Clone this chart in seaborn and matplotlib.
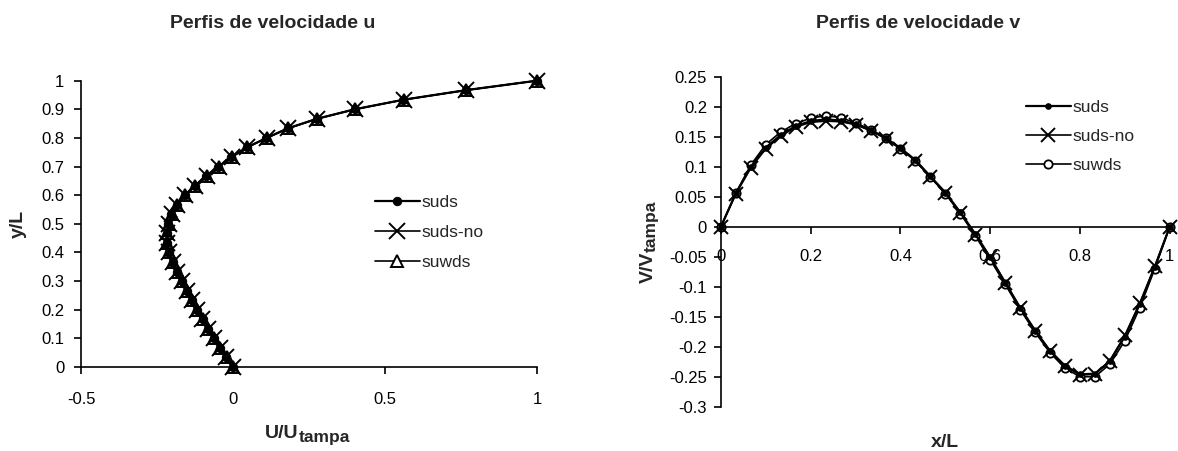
import numpy as np
import pandas as pd
import matplotlib
matplotlib.use("Agg")
import matplotlib.pyplot as plt
import seaborn as sns

# perfil u ao longo da linha vertical (y/L)
y_pos = [k / 30 for k in range(31)]
u_suds = [0.0, -0.022, -0.043, -0.063, -0.082, -0.100, -0.118, -0.135, -0.152, -0.168,
          -0.183, -0.198, -0.210, -0.218, -0.218, -0.213, -0.203, -0.185, -0.158, -0.125,
          -0.088, -0.048, -0.005, 0.045, 0.110, 0.180, 0.275, 0.400, 0.560, 0.765, 1.0]
u_suds_no = [0.0, -0.023, -0.044, -0.064, -0.083, -0.101, -0.119, -0.136, -0.153, -0.169,
             -0.184, -0.198, -0.210, -0.217, -0.217, -0.212, -0.202, -0.184, -0.157, -0.124,
             -0.087, -0.047, -0.004, 0.046, 0.111, 0.181, 0.276, 0.401, 0.561, 0.766, 1.0]
u_suwds = [0.0, -0.021, -0.042, -0.062, -0.081, -0.099, -0.117, -0.134, -0.151, -0.167,
           -0.182, -0.197, -0.209, -0.216, -0.216, -0.211, -0.201, -0.183, -0.157, -0.124,
           -0.087, -0.047, -0.004, 0.046, 0.111, 0.181, 0.276, 0.401, 0.561, 0.766, 1.0]

# perfil v ao longo da linha horizontal (x/L)
x_pos = [k / 30 for k in range(31)]
v_suds = [0.0, 0.056, 0.100, 0.132, 0.153, 0.168, 0.176, 0.179, 0.177, 0.171,
          0.161, 0.148, 0.131, 0.111, 0.084, 0.057, 0.024, -0.012, -0.051, -0.093,
          -0.135, -0.173, -0.207, -0.232, -0.246, -0.245, -0.224, -0.183, -0.129, -0.067, 0.0]
v_suds_no = [0.0, 0.055, 0.098, 0.130, 0.151, 0.166, 0.174, 0.176, 0.175, 0.170,
             0.160, 0.147, 0.130, 0.110, 0.083, 0.056, 0.023, -0.013, -0.051, -0.093,
             -0.135, -0.173, -0.207, -0.232, -0.247, -0.246, -0.223, -0.181, -0.127, -0.066, 0.0]
v_suwds = [0.0, 0.056, 0.103, 0.137, 0.158, 0.172, 0.181, 0.185, 0.182, 0.173,
           0.162, 0.148, 0.130, 0.110, 0.083, 0.055, 0.022, -0.015, -0.055, -0.096,
           -0.138, -0.176, -0.210, -0.236, -0.250, -0.250, -0.229, -0.190, -0.135, -0.070, 0.0]

sns.set_style("ticks")
plt.rcParams['font.family'] = ['Liberation Sans', 'DejaVu Sans']

fig = plt.figure(figsize=(11.78, 4.51), dpi=100)
ax1 = fig.add_axes([0.0688, 0.1863, 0.387, 0.6348])
ax2 = fig.add_axes([0.612, 0.0982, 0.381, 0.7317])

# ---- grafico u  (suds por cima, suwds por baixo)
sns.lineplot(x=u_suds, y=y_pos, sort=False, estimator=None, ax=ax1, color='black', lw=1.6,
             marker='o', markersize=6, markeredgecolor='black', label='suds',
             clip_on=False, zorder=4)
sns.lineplot(x=u_suds_no, y=y_pos, sort=False, estimator=None, ax=ax1, color='black', lw=1.2,
             marker='x', markersize=11, markeredgecolor='black', markeredgewidth=1.4,
             label='suds-no', clip_on=False, zorder=3)
sns.lineplot(x=u_suwds, y=y_pos, sort=False, estimator=None, ax=ax1, color='black', lw=1.2,
             marker='^', markersize=8, markerfacecolor='white', markeredgecolor='black',
             markeredgewidth=1.4, label='suwds', clip_on=False, zorder=2)
ax1.set_xlim(-0.5, 1.0)
ax1.set_ylim(0, 1.0)
ax1.set_xticks([-0.5, 0, 0.5, 1])
ax1.set_xticklabels(['-0.5', '0', '0.5', '1'])
ax1.set_yticks(np.round(np.arange(0, 1.01, 0.1), 1))
ax1.set_yticklabels(['0', '0.1', '0.2', '0.3', '0.4', '0.5', '0.6', '0.7', '0.8', '0.9', '1'])
ax1.set_ylabel('y/L', fontsize=14, fontweight='bold')
ax1.yaxis.set_label_coords(-0.118, 0.5)
ax1.legend(loc='upper left', bbox_to_anchor=(0.625, 0.63), frameon=False, fontsize=12.5,
           handlelength=2.6, handletextpad=0.1, labelspacing=0.85, borderpad=0)

# rotulo U/U tampa (subscrito maior que o do mathtext)
lab_u = ax1.text(0.4035, -0.248, 'U/U', transform=ax1.transAxes, ha='left', va='baseline',
                 fontsize=14, fontweight='bold')
ax1.annotate('tampa', xy=(1, 0), xycoords=lab_u, xytext=(0, -2.5), textcoords='offset points',
             ha='left', va='bottom', fontsize=12.5, fontweight='bold')

# ---- grafico v
sns.lineplot(x=x_pos, y=v_suds, sort=False, estimator=None, ax=ax2, color='black', lw=1.6,
             marker='o', markersize=4, markeredgecolor='black', label='suds',
             clip_on=False, zorder=4)
sns.lineplot(x=x_pos, y=v_suds_no, sort=False, estimator=None, ax=ax2, color='black', lw=1.2,
             marker='x', markersize=10, markeredgecolor='black', markeredgewidth=1.4,
             label='suds-no', clip_on=False, zorder=3)
sns.lineplot(x=x_pos, y=v_suwds, sort=False, estimator=None, ax=ax2, color='black', lw=1.2,
             marker='o', markersize=6, markerfacecolor='white', markeredgecolor='black',
             markeredgewidth=1.3, label='suwds', clip_on=False, zorder=2)
ax2.set_xlim(0, 1.0)
ax2.set_ylim(-0.3, 0.25)
ax2.set_xticks([0, 0.2, 0.4, 0.6, 0.8, 1.0])
ax2.set_xticklabels(['0', '0.2', '0.4', '0.6', '0.8', '1'])
yt = np.round(np.arange(-0.3, 0.251, 0.05), 2)
ax2.set_yticks(yt)
ax2.set_yticklabels(['%g' % t if abs(t) > 1e-9 else '0' for t in yt])
ax2.spines['bottom'].set_position(('data', 0))
ax2.set_xlabel('x/L', fontsize=14, fontweight='bold')
ax2.xaxis.set_label_coords(0.5, -0.082)
ax2.legend(loc='upper left', bbox_to_anchor=(0.66, 0.955), frameon=False, fontsize=12.5,
           handlelength=2.6, handletextpad=0.1, labelspacing=0.78, borderpad=0)

lab_v = ax2.text(-0.180, 0.375, 'V/V', transform=ax2.transAxes, ha='left', va='bottom',
                 rotation=90, fontsize=14, fontweight='bold')
ax2.annotate('tampa', xy=(0, 1), xycoords=lab_v, xytext=(2.5, 0), textcoords='offset points',
             ha='left', va='bottom', rotation=90, fontsize=12.5, fontweight='bold')

for ax in (ax1, ax2):
    sns.despine(ax=ax)
    ax.spines['left'].set_linewidth(1.2)
    ax.spines['bottom'].set_linewidth(1.2)
    ax.spines['left'].set_color('black')
    ax.spines['bottom'].set_color('black')
    ax.tick_params(direction='out', length=5, width=1.2, colors='black', labelsize=12)

ax1.tick_params(axis='x', pad=13)
ax1.tick_params(axis='y', pad=7)
ax2.tick_params(axis='x', pad=11)
ax2.tick_params(axis='y', pad=5)

fig.text(273 / 1178, 1 - 28 / 451, 'Perfis de velocidade u', ha='center', va='baseline',
         fontsize=14, fontweight='bold')
fig.text(918 / 1178, 1 - 28 / 451, 'Perfis de velocidade v', ha='center', va='baseline',
         fontsize=14, fontweight='bold')

fig.savefig('out.png', dpi=100)
